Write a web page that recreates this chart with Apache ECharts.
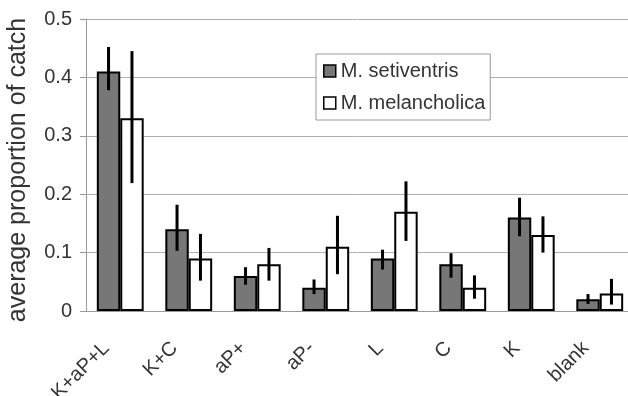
<!DOCTYPE html>
<html>
<head>
<meta charset="utf-8">
<script src="https://cdn.jsdelivr.net/npm/echarts@6/dist/echarts.min.js"></script>
<style>html,body{margin:0;padding:0;background:#fff;}#c{width:628px;height:396px;}</style>
</head>
<body>
<div id="c"></div>
<script>
const categories = ['K+aP+L', 'K+C', 'aP+', 'aP-', 'L', 'C', 'K', 'blank'];
const seriesNames = ['M. setiventris', 'M. melancholica'];
const setiventris = [0.41, 0.14, 0.06, 0.04, 0.09, 0.08, 0.16, 0.02];
const melancholica = [0.33, 0.09, 0.08, 0.11, 0.17, 0.04, 0.13, 0.03];
const setiventrisLow = [0.378, 0.103, 0.045, 0.029, 0.071, 0.057, 0.128, 0.012];
const setiventrisHigh = [0.452, 0.182, 0.075, 0.054, 0.105, 0.099, 0.194, 0.029];
const melancholicaLow = [0.219, 0.052, 0.052, 0.063, 0.120, 0.021, 0.100, 0.011];
const melancholicaHigh = [0.445, 0.132, 0.108, 0.163, 0.222, 0.061, 0.162, 0.055];
const yTicks = [0, 0.1, 0.2, 0.3, 0.4, 0.5];

const BAR_FRAC = 0.342;
const FONT = 'Liberation Sans, Arial, sans-serif';

function errData(lo, hi) { return categories.map((c, i) => [i, lo[i], hi[i]]); }
function errSeries(lo, hi, side) {
  return {
    type: 'custom',
    z: 5,
    silent: true,
    data: errData(lo, hi),
    encode: { x: 0, y: [1, 2] },
    renderItem: function (params, api) {
      const band = api.size([1, 0])[0];
      const off = side * band * BAR_FRAC / 2;
      const p1 = api.coord([api.value(0), api.value(1)]);
      const p2 = api.coord([api.value(0), api.value(2)]);
      return {
        type: 'line',
        shape: { x1: p1[0] + off, y1: p1[1], x2: p2[0] + off, y2: p2[1] },
        style: { stroke: '#000', lineWidth: 3 }
      };
    }
  };
}

const chart = echarts.init(document.getElementById('c'), null, { renderer: 'canvas' });
chart.setOption({
  animation: false,
  backgroundColor: '#fff',
  grid: { left: 86, right: -6, top: 19, bottom: 85, containLabel: false, outerBoundsMode: 'none' },
  legend: {
    data: seriesNames,
    orient: 'vertical',
    left: 316, top: 54,
    padding: [7, 5, 7, 7],
    icon: 'rect',
    itemWidth: 12, itemHeight: 12, itemGap: 12,
    backgroundColor: '#fff',
    borderColor: '#999', borderWidth: 1,
    itemStyle: { borderColor: '#000', borderWidth: 1.5 },
    textStyle: { fontSize: 20, fontFamily: FONT, color: '#333', lineHeight: 20 }
  },
  xAxis: {
    type: 'category',
    data: categories,
    axisLine: { lineStyle: { color: '#999', width: 1 } },
    axisTick: { show: false },
    axisLabel: {
      rotate: 45, margin: 20, interval: 0,
      fontSize: 20, fontFamily: FONT, color: '#333',
      padding: [0, 20, 0, 0]
    }
  },
  yAxis: {
    type: 'value',
    min: yTicks[0], max: yTicks[yTicks.length - 1], interval: 0.1,
    name: 'average proportion of catch',
    nameLocation: 'middle', nameGap: 55,
    nameTextStyle: { fontSize: 25, fontFamily: FONT, color: '#333', padding: [0, 10, 0, 0] },
    axisLine: { show: true, lineStyle: { color: '#999', width: 1 } },
    axisTick: { show: true, length: 6, lineStyle: { color: '#999' } },
    axisLabel: {
      margin: 14, fontSize: 20, fontFamily: FONT, color: '#333',
      formatter: v => (v === 0 ? '0' : String(Math.round(v * 10) / 10))
    },
    splitLine: { lineStyle: { color: '#b0b0b0', width: 1 } }
  },
  series: [
    {
      name: seriesNames[0], type: 'bar', data: setiventris,
      barWidth: (BAR_FRAC * 100) + '%', barGap: '0%',
      itemStyle: { color: '#777777', borderColor: '#000', borderWidth: 2 }
    },
    {
      name: seriesNames[1], type: 'bar', data: melancholica,
      barWidth: (BAR_FRAC * 100) + '%', barGap: '0%',
      itemStyle: { color: '#ffffff', borderColor: '#000', borderWidth: 2 }
    },
    errSeries(setiventrisLow, setiventrisHigh, -1),
    errSeries(melancholicaLow, melancholicaHigh, 1)
  ]
});
</script>
</body>
</html>
